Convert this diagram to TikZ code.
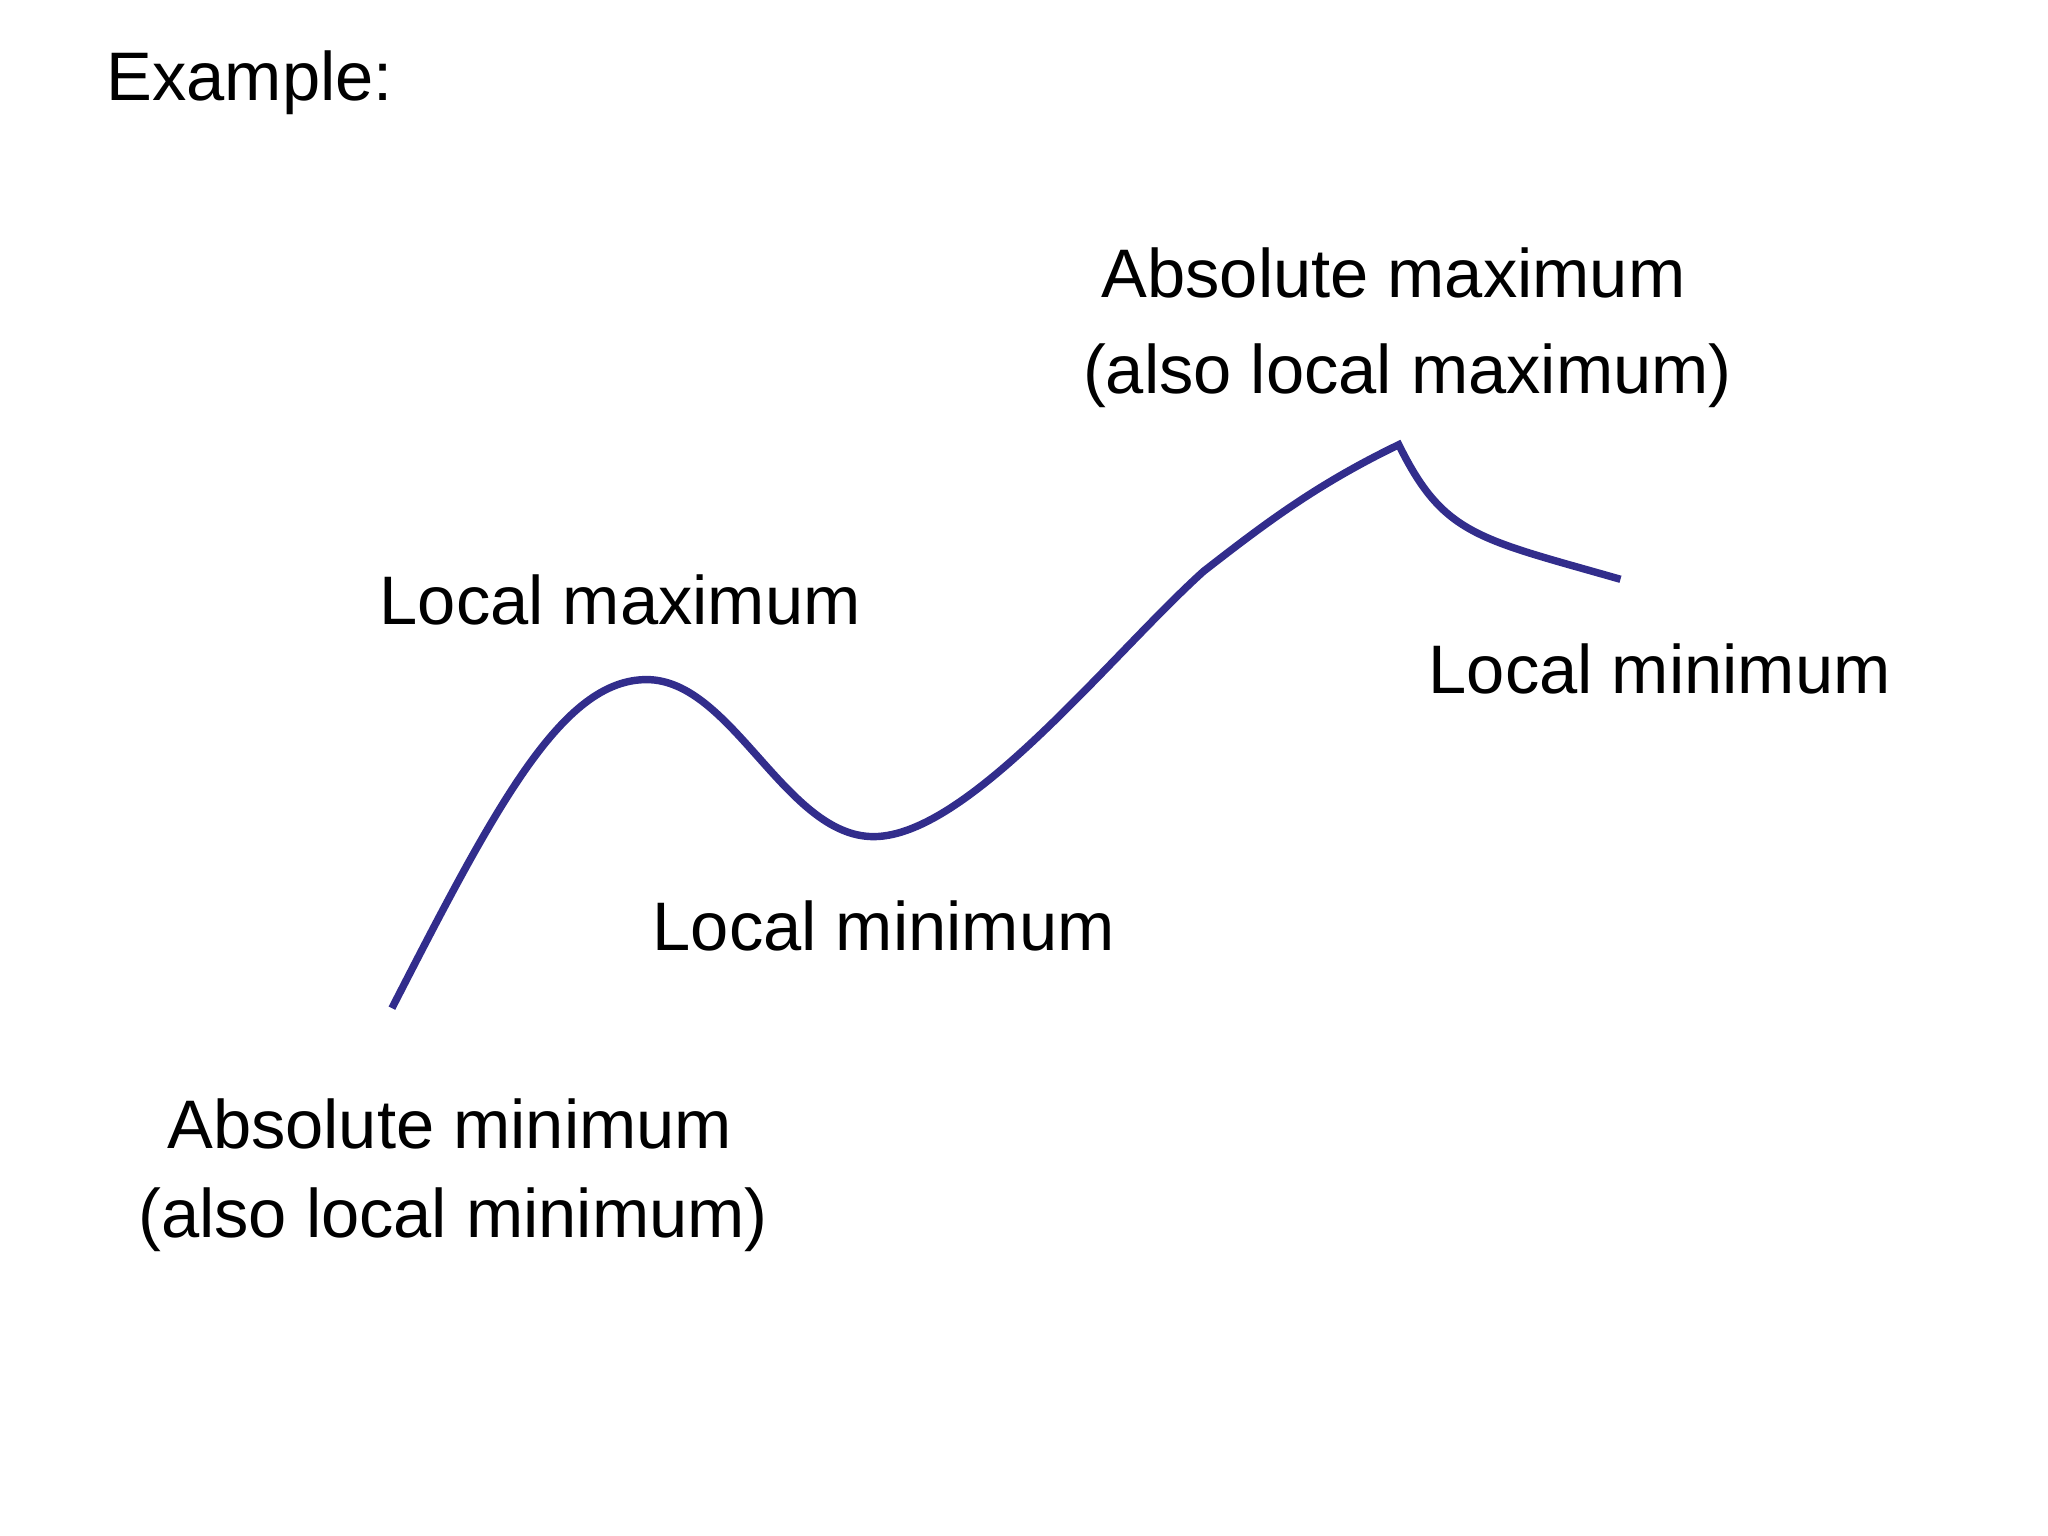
\documentclass[tikz,border=0pt]{standalone}
\usepackage{fontspec}
\setmainfont{Liberation Sans}
\begin{document}
\begin{tikzpicture}[x=0.01cm,y=-0.01cm,
  lbl/.style={inner sep=0pt,font=\fontsize{14.8}{17}\selectfont,anchor=west},
  curve/.style={draw={rgb,255:red,50;green,45;blue,140},line width=1.6pt}]
\useasboundingbox (0,0) rectangle (1552,1164);
\node[lbl] (ex) at (80,63) {Example:};
\node[lbl] (amax) at (834,207) {Absolute maximum};
\node[lbl] (amax2) at (820,285) {(also local maximum)};
\node[lbl] (lmax) at (287,455) {Local maximum};
\node[lbl] (lmin2) at (1082,507) {Local minimum};
\node[lbl] (lmin) at (494,702) {Local minimum};
\node[lbl] (amin) at (126,852) {Absolute minimum};
\node[lbl] (amin2) at (104,924) {(also local minimum)};
\coordinate (p0) at (297,764);
\coordinate (p1) at (490,515);
\coordinate (p2) at (662,634);
\coordinate (p3) at (912,433);
\coordinate (p4) at (1060,337);
\coordinate (p5) at (1228,439);
\draw[curve] (p0) .. controls (376,610) and (426,515) .. (p1)
  .. controls (555,515) and (595,634) .. (p2)
  .. controls (734,634) and (842,496) .. (p3)
  .. controls (962,394) and (1000,366) .. (p4)
  .. controls (1094,406) and (1120,408) .. (p5);
\end{tikzpicture}
\end{document}
